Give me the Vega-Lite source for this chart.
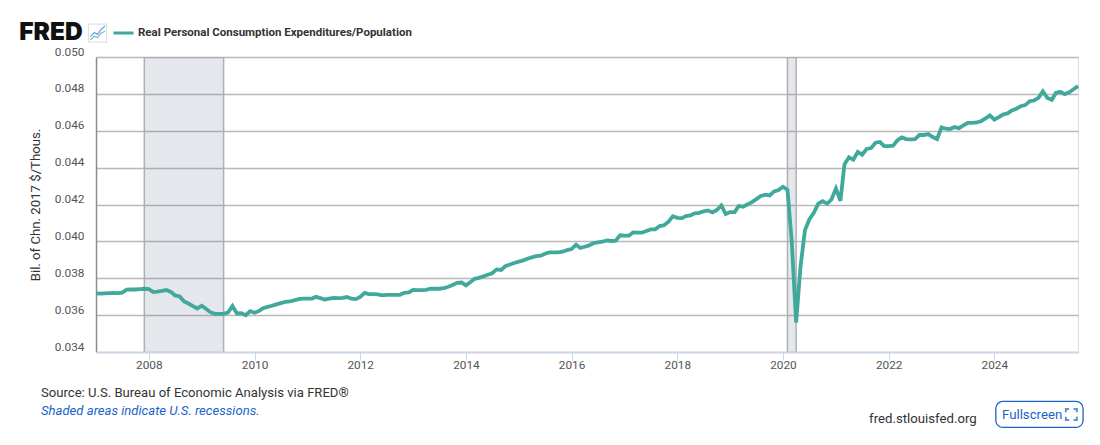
{"$schema":"https://vega.github.io/schema/vega-lite/v6.json","width":982,"height":295,"autosize":"none","padding":{"left":96,"top":57,"right":22,"bottom":93},"background":"white","title":{"text":"Source: U.S. Bureau of Economic Analysis via FRED®","subtitle":"Shaded areas indicate U.S. recessions.","orient":"bottom","anchor":"start","frame":"group","dx":-55,"offset":-41.5,"font":"Roboto","fontSize":13.1,"fontWeight":"normal","color":"#333333","subtitleFont":"Roboto","subtitleFontSize":13.1,"subtitleFontStyle":"italic","subtitleColor":"#1a64c8","subtitlePadding":5.5},"datasets":{"recessions":[{"start":"2007-12-01","end":"2009-06-01"},{"start":"2020-02-01","end":"2020-04-01"}],"series":[{"date":"2007-01-01","value":0.03718},{"date":"2007-02-01","value":0.03717},{"date":"2007-03-01","value":0.03718},{"date":"2007-04-01","value":0.03719},{"date":"2007-05-01","value":0.0372},{"date":"2007-06-01","value":0.03719},{"date":"2007-07-01","value":0.03722},{"date":"2007-08-01","value":0.03738},{"date":"2007-09-01","value":0.03739},{"date":"2007-10-01","value":0.03739},{"date":"2007-11-01","value":0.03741},{"date":"2007-12-01","value":0.03743},{"date":"2008-01-01","value":0.03741},{"date":"2008-02-01","value":0.03725},{"date":"2008-03-01","value":0.03728},{"date":"2008-04-01","value":0.03732},{"date":"2008-05-01","value":0.03736},{"date":"2008-06-01","value":0.03726},{"date":"2008-07-01","value":0.03707},{"date":"2008-08-01","value":0.03701},{"date":"2008-09-01","value":0.03674},{"date":"2008-10-01","value":0.03663},{"date":"2008-11-01","value":0.03649},{"date":"2008-12-01","value":0.03636},{"date":"2009-01-01","value":0.03651},{"date":"2009-02-01","value":0.03633},{"date":"2009-03-01","value":0.03616},{"date":"2009-04-01","value":0.03607},{"date":"2009-05-01","value":0.03607},{"date":"2009-06-01","value":0.03607},{"date":"2009-07-01","value":0.03614},{"date":"2009-08-01","value":0.03649},{"date":"2009-09-01","value":0.03609},{"date":"2009-10-01","value":0.03611},{"date":"2009-11-01","value":0.036},{"date":"2009-12-01","value":0.03622},{"date":"2010-01-01","value":0.03613},{"date":"2010-02-01","value":0.03623},{"date":"2010-03-01","value":0.03638},{"date":"2010-04-01","value":0.03645},{"date":"2010-05-01","value":0.03651},{"date":"2010-06-01","value":0.03658},{"date":"2010-07-01","value":0.03665},{"date":"2010-08-01","value":0.03672},{"date":"2010-09-01","value":0.03674},{"date":"2010-10-01","value":0.0368},{"date":"2010-11-01","value":0.03687},{"date":"2010-12-01","value":0.03689},{"date":"2011-01-01","value":0.0369},{"date":"2011-02-01","value":0.0369},{"date":"2011-03-01","value":0.03699},{"date":"2011-04-01","value":0.03692},{"date":"2011-05-01","value":0.03685},{"date":"2011-06-01","value":0.0369},{"date":"2011-07-01","value":0.03694},{"date":"2011-08-01","value":0.03692},{"date":"2011-09-01","value":0.03694},{"date":"2011-10-01","value":0.03698},{"date":"2011-11-01","value":0.03689},{"date":"2011-12-01","value":0.03687},{"date":"2012-01-01","value":0.03699},{"date":"2012-02-01","value":0.03721},{"date":"2012-03-01","value":0.03714},{"date":"2012-04-01","value":0.03714},{"date":"2012-05-01","value":0.03712},{"date":"2012-06-01","value":0.03707},{"date":"2012-07-01","value":0.0371},{"date":"2012-08-01","value":0.0371},{"date":"2012-09-01","value":0.0371},{"date":"2012-10-01","value":0.0371},{"date":"2012-11-01","value":0.03721},{"date":"2012-12-01","value":0.03723},{"date":"2013-01-01","value":0.03737},{"date":"2013-02-01","value":0.03736},{"date":"2013-03-01","value":0.03736},{"date":"2013-04-01","value":0.03737},{"date":"2013-05-01","value":0.03743},{"date":"2013-06-01","value":0.03743},{"date":"2013-07-01","value":0.03743},{"date":"2013-08-01","value":0.03746},{"date":"2013-09-01","value":0.03754},{"date":"2013-10-01","value":0.03763},{"date":"2013-11-01","value":0.03775},{"date":"2013-12-01","value":0.03777},{"date":"2014-01-01","value":0.03761},{"date":"2014-02-01","value":0.03779},{"date":"2014-03-01","value":0.03797},{"date":"2014-04-01","value":0.03802},{"date":"2014-05-01","value":0.0381},{"date":"2014-06-01","value":0.03819},{"date":"2014-07-01","value":0.03827},{"date":"2014-08-01","value":0.03848},{"date":"2014-09-01","value":0.03845},{"date":"2014-10-01","value":0.03866},{"date":"2014-11-01","value":0.03875},{"date":"2014-12-01","value":0.03883},{"date":"2015-01-01","value":0.0389},{"date":"2015-02-01","value":0.03897},{"date":"2015-03-01","value":0.03906},{"date":"2015-04-01","value":0.03913},{"date":"2015-05-01","value":0.0392},{"date":"2015-06-01","value":0.03922},{"date":"2015-07-01","value":0.03933},{"date":"2015-08-01","value":0.0394},{"date":"2015-09-01","value":0.0394},{"date":"2015-10-01","value":0.0394},{"date":"2015-11-01","value":0.03944},{"date":"2015-12-01","value":0.03953},{"date":"2016-01-01","value":0.03958},{"date":"2016-02-01","value":0.03982},{"date":"2016-03-01","value":0.03964},{"date":"2016-04-01","value":0.03971},{"date":"2016-05-01","value":0.03978},{"date":"2016-06-01","value":0.03991},{"date":"2016-07-01","value":0.03995},{"date":"2016-08-01","value":0.03998},{"date":"2016-09-01","value":0.04005},{"date":"2016-10-01","value":0.04002},{"date":"2016-11-01","value":0.04004},{"date":"2016-12-01","value":0.04033},{"date":"2017-01-01","value":0.04031},{"date":"2017-02-01","value":0.04031},{"date":"2017-03-01","value":0.04049},{"date":"2017-04-01","value":0.04047},{"date":"2017-05-01","value":0.04047},{"date":"2017-06-01","value":0.04056},{"date":"2017-07-01","value":0.04065},{"date":"2017-08-01","value":0.04065},{"date":"2017-09-01","value":0.04083},{"date":"2017-10-01","value":0.04087},{"date":"2017-11-01","value":0.04107},{"date":"2017-12-01","value":0.04136},{"date":"2018-01-01","value":0.04128},{"date":"2018-02-01","value":0.04126},{"date":"2018-03-01","value":0.04137},{"date":"2018-04-01","value":0.04141},{"date":"2018-05-01","value":0.04152},{"date":"2018-06-01","value":0.04155},{"date":"2018-07-01","value":0.04163},{"date":"2018-08-01","value":0.04168},{"date":"2018-09-01","value":0.04157},{"date":"2018-10-01","value":0.0417},{"date":"2018-11-01","value":0.04195},{"date":"2018-12-01","value":0.04148},{"date":"2019-01-01","value":0.04159},{"date":"2019-02-01","value":0.04159},{"date":"2019-03-01","value":0.04192},{"date":"2019-04-01","value":0.04188},{"date":"2019-05-01","value":0.04201},{"date":"2019-06-01","value":0.04213},{"date":"2019-07-01","value":0.04229},{"date":"2019-08-01","value":0.04246},{"date":"2019-09-01","value":0.04253},{"date":"2019-10-01","value":0.04249},{"date":"2019-11-01","value":0.04271},{"date":"2019-12-01","value":0.04278},{"date":"2020-01-01","value":0.04296},{"date":"2020-02-01","value":0.0428},{"date":"2020-03-01","value":0.04007},{"date":"2020-04-01","value":0.0356},{"date":"2020-05-01","value":0.03863},{"date":"2020-06-01","value":0.04061},{"date":"2020-07-01","value":0.04119},{"date":"2020-08-01","value":0.04155},{"date":"2020-09-01","value":0.04205},{"date":"2020-10-01","value":0.04218},{"date":"2020-11-01","value":0.04205},{"date":"2020-12-01","value":0.04227},{"date":"2021-01-01","value":0.04287},{"date":"2021-02-01","value":0.0422},{"date":"2021-03-01","value":0.04418},{"date":"2021-04-01","value":0.04456},{"date":"2021-05-01","value":0.04443},{"date":"2021-06-01","value":0.04485},{"date":"2021-07-01","value":0.0447},{"date":"2021-08-01","value":0.04501},{"date":"2021-09-01","value":0.04506},{"date":"2021-10-01","value":0.04535},{"date":"2021-11-01","value":0.04539},{"date":"2021-12-01","value":0.04517},{"date":"2022-01-01","value":0.04517},{"date":"2022-02-01","value":0.04519},{"date":"2022-03-01","value":0.04548},{"date":"2022-04-01","value":0.04564},{"date":"2022-05-01","value":0.04555},{"date":"2022-06-01","value":0.04553},{"date":"2022-07-01","value":0.04555},{"date":"2022-08-01","value":0.04577},{"date":"2022-09-01","value":0.04577},{"date":"2022-10-01","value":0.04582},{"date":"2022-11-01","value":0.04566},{"date":"2022-12-01","value":0.04555},{"date":"2023-01-01","value":0.04618},{"date":"2023-02-01","value":0.04611},{"date":"2023-03-01","value":0.04609},{"date":"2023-04-01","value":0.0462},{"date":"2023-05-01","value":0.04614},{"date":"2023-06-01","value":0.04629},{"date":"2023-07-01","value":0.04643},{"date":"2023-08-01","value":0.04643},{"date":"2023-09-01","value":0.04645},{"date":"2023-10-01","value":0.04652},{"date":"2023-11-01","value":0.04667},{"date":"2023-12-01","value":0.04683},{"date":"2024-01-01","value":0.0466},{"date":"2024-02-01","value":0.04674},{"date":"2024-03-01","value":0.04688},{"date":"2024-04-01","value":0.04694},{"date":"2024-05-01","value":0.0471},{"date":"2024-06-01","value":0.04719},{"date":"2024-07-01","value":0.04733},{"date":"2024-08-01","value":0.04739},{"date":"2024-09-01","value":0.0476},{"date":"2024-10-01","value":0.04764},{"date":"2024-11-01","value":0.04778},{"date":"2024-12-01","value":0.04813},{"date":"2025-01-01","value":0.04778},{"date":"2025-02-01","value":0.04768},{"date":"2025-03-01","value":0.04805},{"date":"2025-04-01","value":0.04811},{"date":"2025-05-01","value":0.04798},{"date":"2025-06-01","value":0.04809},{"date":"2025-07-01","value":0.04825},{"date":"2025-08-01","value":0.04842}]},"layer":[{"data":{"name":"recessions"},"mark":{"type":"rect","color":"rgb(94,115,142)","opacity":0.17},"encoding":{"x":{"field":"start","type":"temporal","scale":{"domain":["2007-01-01","2025-08-01"]},"title":null,"axis":{"format":"%Y","tickCount":{"interval":"year","step":2},"grid":false,"domainColor":"#ccd6eb","domainWidth":1.5,"tickColor":"#ccd6eb","tickWidth":1,"tickSize":8,"labelColor":"#555555","labelFont":"Roboto","labelFontSize":11.8,"labelPadding":-1,"labelFlush":false,"labelOverlap":false,"zindex":1}},"x2":{"field":"end"}}},{"data":{"name":"recessions"},"mark":{"type":"rule","color":"#b0b0b0","strokeWidth":1.5},"encoding":{"x":{"field":"start","type":"temporal"}}},{"data":{"name":"recessions"},"mark":{"type":"rule","color":"#b0b0b0","strokeWidth":1.5},"encoding":{"x":{"field":"end","type":"temporal"}}},{"data":{"name":"series"},"mark":{"type":"line","strokeWidth":3.8,"strokeJoin":"miter","interpolate":"linear"},"encoding":{"x":{"field":"date","type":"temporal"},"y":{"field":"value","type":"quantitative","scale":{"domain":[0.034,0.05],"zero":false,"nice":false},"title":"Bil. of Chn. 2017 $/Thous.","axis":{"values":[0.034,0.036,0.038,0.04,0.042,0.044,0.046,0.048,0.05],"tickCount":9,"format":".3f","grid":true,"gridColor":"#b8b8b8","gridWidth":1.5,"domainColor":"#8c8c8c","domainWidth":1.5,"ticks":false,"labelColor":"#555555","labelFont":"Roboto","labelFontSize":11.8,"labelPadding":12,"labelOffset":-6,"titleFont":"Roboto","titleFontSize":13.2,"titleFontWeight":"normal","titleColor":"#333333","titlePadding":12}},"color":{"datum":"Real Personal Consumption Expenditures/Population","type":"nominal","scale":{"range":["#40a99b"]},"legend":{"title":null,"orient":"none","legendX":16,"legendY":-35.5,"symbolType":"stroke","symbolSize":400,"symbolStrokeWidth":3,"labelFont":"Roboto","labelFontSize":11.5,"labelFontWeight":"bold","labelColor":"#333333","labelLimit":400,"labelOffset":3,"padding":0}}}},{"data":{"values":[{"label":"FRED"}]},"mark":{"type":"text","align":"left","baseline":"middle","font":"Inter","fontWeight":900,"fontSize":24.5,"color":"#111111"},"encoding":{"x":{"datum":{"year":2005,"month":7,"date":20},"type":"temporal"},"y":{"datum":0.0513,"type":"quantitative"},"text":{"field":"label"}}},{"data":{"values":[{"label":"icon"}]},"mark":{"type":"point","shape":"square","size":324,"filled":false,"stroke":"#d4d8dc","strokeWidth":1.2},"encoding":{"x":{"datum":{"year":2007,"month":1,"date":11},"type":"temporal"},"y":{"datum":0.0513,"type":"quantitative"}}},{"data":{"values":[{"label":"icon"}]},"mark":{"type":"point","shape":"M-0.8,0.4 L-0.35,-0.05 L0,0.15 L0.4,-0.4 L0.85,-0.8","size":324,"filled":false,"stroke":"#2d7be5","strokeWidth":1.2},"encoding":{"x":{"datum":{"year":2007,"month":1,"date":11},"type":"temporal"},"y":{"datum":0.0513,"type":"quantitative"}}},{"data":{"values":[{"label":"icon"}]},"mark":{"type":"point","shape":"M-0.8,0.75 L-0.35,0.35 L0,0.5 L0.4,0 L0.85,-0.2","size":324,"filled":false,"stroke":"#40a99b","strokeWidth":1.2},"encoding":{"x":{"datum":{"year":2007,"month":1,"date":11},"type":"temporal"},"y":{"datum":0.0513,"type":"quantitative"}}},{"data":{"values":[{"label":"fred.stlouisfed.org"}]},"mark":{"type":"text","align":"right","baseline":"middle","font":"Roboto","fontSize":13.2,"color":"#333333"},"encoding":{"x":{"datum":{"year":2023,"month":9,"date":1},"type":"temporal"},"y":{"datum":0.03038,"type":"quantitative"},"text":{"field":"label"}}},{"data":{"values":[{"label":"button"}]},"mark":{"type":"rect","fill":"white","stroke":"#1a64c8","strokeWidth":1.3,"cornerRadius":7},"encoding":{"x":{"datum":{"year":2024,"month":1,"date":11},"type":"temporal"},"x2":{"datum":{"year":2025,"month":9,"date":5}},"y":{"datum":0.03132,"type":"quantitative"},"y2":{"datum":0.02991}}},{"data":{"values":[{"label":"Fullscreen"}]},"mark":{"type":"text","align":"left","baseline":"middle","font":"Roboto","fontSize":13.2,"color":"#1a64c8"},"encoding":{"x":{"datum":{"year":2024,"month":2,"date":23},"type":"temporal"},"y":{"datum":0.03061,"type":"quantitative"},"text":{"field":"label"}}},{"data":{"values":[{"label":"corners"}]},"mark":{"type":"point","shape":"M-1,-0.4 V-1 H-0.4 M0.4,-1 H1 V-0.4 M1,0.4 V1 H0.4 M-0.4,1 H-1 V0.4","size":121,"filled":false,"stroke":"#1a64c8","strokeWidth":2},"encoding":{"x":{"datum":{"year":2025,"month":6,"date":16},"type":"temporal"},"y":{"datum":0.03061,"type":"quantitative"}}}]}
